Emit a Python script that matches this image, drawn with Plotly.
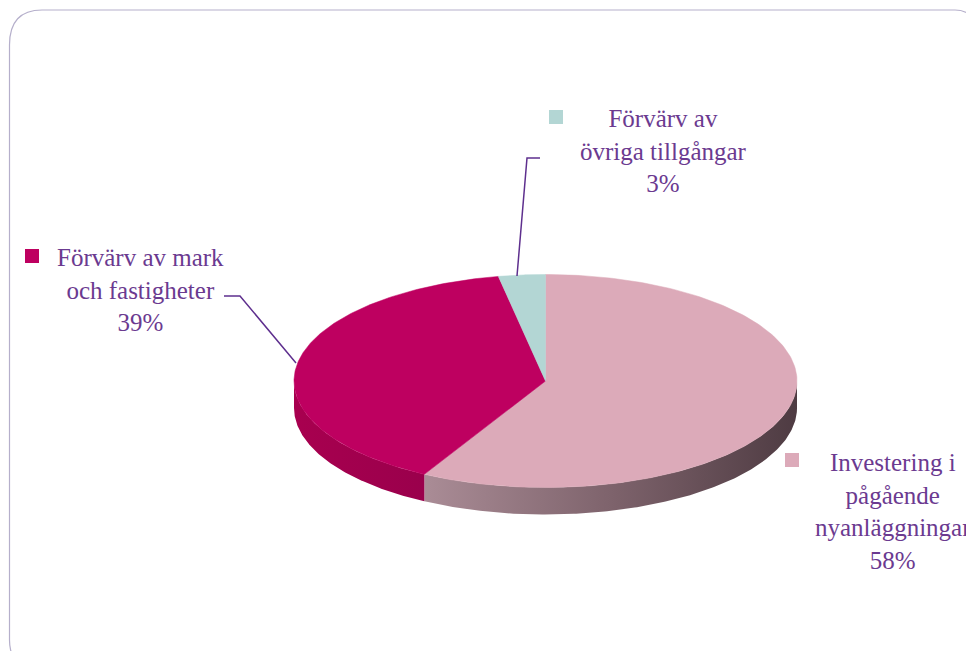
import numpy as np
import plotly.graph_objects as go

# ---- data ----
categories = ["Investering i<br>pågående<br>nyanläggningar",
              "Förvärv av mark<br>och fastigheter",
              "Förvärv av<br>övriga tillgångar"]
values = [58, 39, 3]
pct_labels = ["58%", "39%", "3%"]
top_colors = ["#DCAAB9", "#BE0060", "#B3D6D4"]
wall_scales = [
    [[0, "#AA8C96"], [0.5, "#7E636C"], [1, "#4E3B42"]],
    [[0, "#A8004F"], [1, "#9A004C"]],
    [[0, "#8FB0AE"], [1, "#8FB0AE"]],
]

# ---- geometry (layout) ----
CX, CY, RX, RY, DEPTH = 545.5, 381, 251.5, 106.5, 27
TEXT_COLOR = "#6B3A90"
LINE_COLOR = "#5E2F8E"
FONT = "Liberation Serif, Tinos, Times New Roman, DejaVu Serif, serif"
OFF = 8  # page body margin


def ell(theta, dy=0.0):
    return CX + RX * np.cos(theta), CY - RY * np.sin(theta) + dy


fig = go.Figure()

total = float(sum(values))
fracs = np.array(values) / total
cum = np.concatenate([[0], np.cumsum(fracs)])

walls = []
tops = []
for i, v in enumerate(values):
    t0 = np.pi / 2 - 2 * np.pi * cum[i]
    t1 = np.pi / 2 - 2 * np.pi * cum[i + 1]
    th = np.linspace(t0, t1, 200)
    x, y = ell(th)
    tops.append((np.concatenate([[CX], x, [CX]]), np.concatenate([[CY], y, [CY]]), top_colors[i]))
    for k in range(3):
        lo, hi = -np.pi - 2 * np.pi * k, -2 * np.pi * k
        a, b = max(t1, lo), min(t0, hi)
        if b > a:
            th = np.linspace(b, a, 200)
            xt, yt = ell(th)
            xb, yb = ell(th[::-1], DEPTH)
            walls.append((np.concatenate([xt, xb, xt[:1]]),
                          np.concatenate([yt, yb, yt[:1]]), wall_scales[i]))

for x, y, sc in walls:
    fig.add_trace(go.Scatter(x=x, y=y, mode="lines", fill="toself",
                             line=dict(width=0), fillcolor=sc[0][1],
                             fillgradient=dict(type="horizontal", colorscale=sc),
                             hoverinfo="skip", showlegend=False))
for x, y, c in tops:
    fig.add_trace(go.Scatter(x=x, y=y, mode="lines", fill="toself",
                             line=dict(width=0.5, color=c), fillcolor=c,
                             hoverinfo="skip", showlegend=False))

# ---- labels ----
label_pos = [(893, 511), (140, 290), (663, 151)]
key_pos = [(785, 453), (25, 249), (549, 110)]
for i in range(len(values)):
    lx, ly = label_pos[i]
    fig.add_annotation(x=lx, y=ly, xref="x", yref="y", showarrow=False,
                       text=categories[i] + "<br>" + pct_labels[i],
                       align="center", xanchor="center", yanchor="middle",
                       font=dict(family=FONT, size=25, color=TEXT_COLOR))
    kx, ky = key_pos[i]
    fig.add_shape(type="rect", x0=kx, y0=ky, x1=kx + 14, y1=ky + 14,
                  xref="x", yref="y", line=dict(width=0), fillcolor=top_colors[i])

# leader lines
fig.add_shape(type="path", path="M 224,296 L 240,296 L 296,363",
              xref="x", yref="y", line=dict(color=LINE_COLOR, width=1.5))
fig.add_shape(type="path", path="M 517,276 L 527,158 L 540,158",
              xref="x", yref="y", line=dict(color=LINE_COLOR, width=1.5))

# frame
fig.add_shape(type="path",
              path="M 16,662 Q 9.5,653 9.5,640 L 9.5,45 Q 9.5,10 42,10 L 955,10 Q 970,10 980,25",
              xref="x", yref="y", line=dict(color="#B5AFCB", width=1.2), layer="below")

fig.update_layout(
    width=974, height=651,
    margin=dict(l=0, r=0, t=0, b=0),
    paper_bgcolor="white", plot_bgcolor="white",
    xaxis=dict(range=[OFF, 974 + OFF], visible=False, fixedrange=True),
    yaxis=dict(range=[651 + OFF, OFF], visible=False, fixedrange=True),
    showlegend=False,
)

fig.write_html("out.html")
